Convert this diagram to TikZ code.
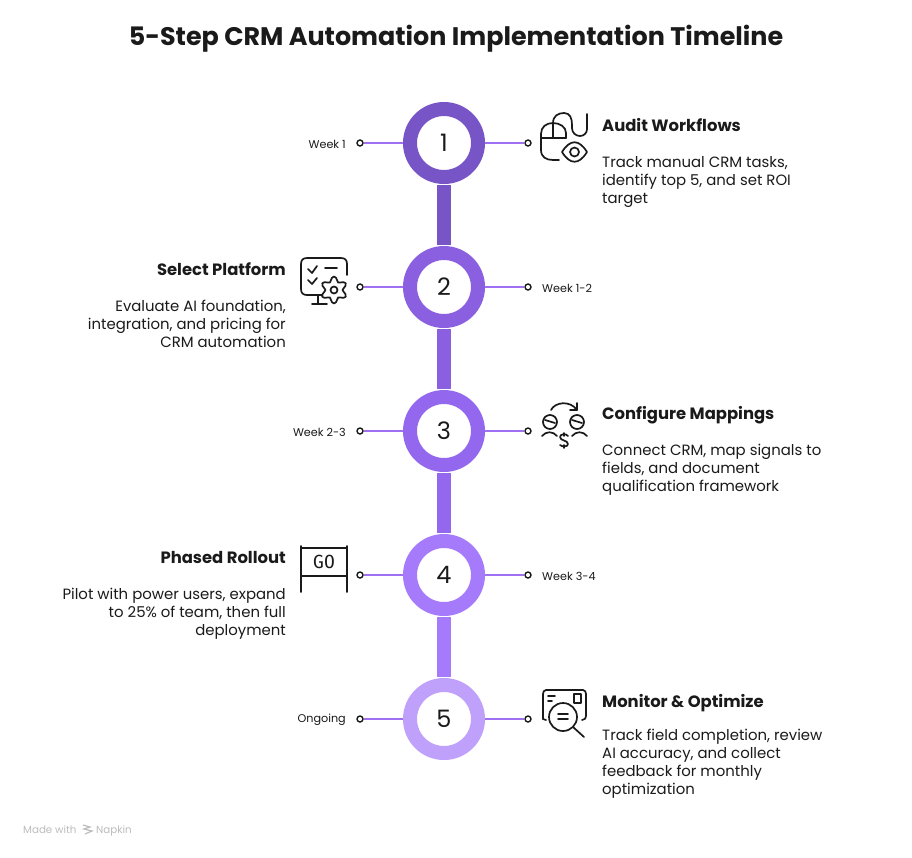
\documentclass[tikz,border=0pt]{standalone}
\usepackage{fontspec}
\setmainfont{Poppins}
\newfontfamily\gofont{DejaVu Sans Mono}
\definecolor{inka}{HTML}{1A1A1A}
\definecolor{stepa}{HTML}{7855C6}
\definecolor{stepb}{HTML}{8A60E0}
\definecolor{stepc}{HTML}{9468EE}
\definecolor{stepd}{HTML}{A67BFB}
\definecolor{stepe}{HTML}{BFA0FB}
\definecolor{tickc}{HTML}{A070F4}
\definecolor{markc}{HTML}{BDBDBD}
\tikzset{
  stage/.style={circle,draw=#1,line width=14pt,fill=white,minimum size=68pt,inner sep=0pt,text=inka,font=\fontsize{24}{24}\selectfont},
  rail/.style={line width=14pt,draw=#1,shorten >=1pt,shorten <=1pt},
  dot/.style={circle,draw=inka,line width=1.4pt,fill=white,minimum size=6pt,inner sep=0pt},
  tick/.style={draw=tickc,line width=1.6pt},
  weeklabel/.style={text=inka,font=\fontsize{11.2}{12}\selectfont,inner sep=0pt},
  headl/.style={text=inka,font=\fontsize{16.4}{18}\selectfont\bfseries,inner sep=0pt},
  bodyl/.style={text=inka,font=\fontsize{14.9}{18}\selectfont,inner sep=0pt},
  icon/.style={draw=inka,line width=1.7pt,line cap=round,line join=round},
}
\begin{document}
\begin{tikzpicture}[x=1pt,y=-1pt]
  \path[fill=white,use as bounding box] (0,0) rectangle (912,857);
  \node[text=inka,font=\fontsize{25.4}{28}\selectfont\bfseries,inner sep=0pt] (title) at (456,38.5) {5-Step CRM Automation Implementation Timeline};
  % stages with their dots and week labels
  \foreach \n/\y/\col in {1/143/stepa,2/287/stepb,3/431/stepc,4/575/stepd,5/719/stepe}
    \node[stage=\col] (s\n) at (444,\y) {\raisebox{-2pt}{\n}};
  \foreach \a/\b/\col in {s1/s2/stepa,s2/s3/stepb,s3/s4/stepc,s4/s5/stepd}
    \draw[rail=\col] (\a.south) -- (\b.north);
  \foreach \n/\y in {1/143,2/287,3/431,4/575,5/719} {
    \node[dot] (dl\n) at (360,\y) {};
    \node[dot] (dr\n) at (528,\y) {};
    \draw[tick] (s\n) -- (dl\n);
    \draw[tick] (s\n) -- (dr\n);
  }
  \foreach \n/\w in {1/Week 1,3/Week 2-3,5/Ongoing}
    \node[weeklabel,anchor=east] (w\n) at ([xshift=-14pt,yshift=-1pt]dl\n.center) {\w};
  \foreach \n/\w in {2/Week 1-2,4/Week 3-4}
    \node[weeklabel,anchor=west] (w\n) at ([xshift=14pt,yshift=-1pt]dr\n.center) {\w};
  % headings and texts
  \node[headl,anchor=base west] (h1) at (602,131) {Audit Workflows};
  \node[bodyl,anchor=north west,align=left] (b1) at (602,156) {Track manual CRM tasks,\\identify top 5, and set ROI\\target};
  \node[headl,anchor=base east] (h2) at (286,275) {Select Platform};
  \node[bodyl,anchor=north east,align=right] (b2) at (286,300) {Evaluate AI foundation,\\integration, and pricing for\\CRM automation};
  \node[headl,anchor=base west] (h3) at (602,419) {Configure Mappings};
  \node[bodyl,anchor=north west,align=left] (b3) at (602,444) {Connect CRM, map signals to\\fields, and document\\qualification framework};
  \node[headl,anchor=base east] (h4) at (286,563) {Phased Rollout};
  \node[bodyl,anchor=north east,align=right] (b4) at (286,588) {Pilot with power users, expand\\to 25\% of team, then full\\deployment};
  \node[headl,anchor=base west] (h5) at (602,707) {Monitor \& Optimize};
  \node[bodyl,anchor=north west,align=left] (b5) at (602,729) {Track field completion, review\\AI accuracy, and collect\\feedback for monthly\\optimization};
  % mouse and eye
  \draw[icon] (566,138) -- (566,133) .. controls (566,127) and (560,123) .. (553,123) .. controls (546,123) and (541,127) .. (541,134) -- (541,150) .. controls (541,157) and (546,160) .. (553,160) -- (559,160);
  \draw[icon] (541,138) -- (566,138) (553,138) -- (553,123);
  \draw[icon] (553,123) .. controls (553,116) and (558,113) .. (564,113) .. controls (570,113) and (572,118) .. (572,125) -- (572,128) .. controls (572,133) and (576,136) .. (580,136) .. controls (584,136) and (587,133) .. (587,129) -- (587,114);
  \draw[icon] (562,152) .. controls (570,139) and (579,139) .. (587,152) .. controls (579,165) and (570,165) .. (562,152);
  \draw[icon] (574.5,152) circle (4.5);
  % monitor, checks and gear
  \draw[icon] (322,295) -- (307,295) .. controls (303,295) and (301,293) .. (301,289) -- (301,264) .. controls (301,260) and (303,258) .. (307,258) -- (341,258) .. controls (345,258) and (347,260) .. (347,264) -- (347,275);
  \draw[icon] (318,295) -- (318,303) (312,304) -- (327,304);
  \draw[icon] (308,269) -- (312,273) -- (317,266) (308,280) -- (312,284) -- (317,278) (325,268) -- (337,268);
  \draw[icon] plot[smooth cycle,tension=.6,samples=36,domain=0:350] ({334+(11-2.5*cos(6*\x))*cos(\x)},{290+(11-2.5*cos(6*\x))*sin(\x)});
  \draw[icon] (334,290) circle (3.5);
  % two heads, swap arrow and dollar
  \draw[icon] (550,422) circle (7) (577,422) circle (7);
  \draw[icon] (545,420) -- (555,423) (572,420) -- (582,423);
  \draw[icon] (551,410) .. controls (555,402) and (570,400) .. (577,410);
  \draw[icon] (577,403) -- (577,410) -- (570,410);
  \draw[icon] (542,436) .. controls (546,431) and (553,431) .. (557,436) (572,436) .. controls (576,431) and (583,431) .. (587,436);
  \draw[icon] (568,436) .. controls (566,433) and (560,434) .. (560,437) .. controls (560,441) and (568,440) .. (568,444) .. controls (568,447) and (562,447) .. (560,445);
  \draw[icon] (564,433) -- (564,436) (564,445) -- (564,448);
  % start banner
  \draw[icon,line width=1.9pt] (301,546) -- (301,592) (347,546) -- (347,592) (301,548) -- (347,548) (301,576) -- (347,576);
  \node[text=inka,font=\gofont\fontsize{18}{18}\selectfont,inner sep=0pt] (go) at (324,562) {GO};
  % screen and magnifier
  \draw[icon] (543,719) -- (543,694) .. controls (543,692) and (544,690) .. (546,690) -- (583,690) .. controls (585,690) and (586,692) .. (586,694) -- (586,716) .. controls (586,718) and (585,720) .. (582,720);
  \draw[icon] (543,719) -- (546,720);
  \draw[icon] (548,696) -- (555,696) (548,701) -- (552,701);
  \draw[icon] (574,694) rectangle (581,703);
  \draw[icon,fill=white] (563,717) circle (14);
  \draw[icon] (558,714) -- (568,714) (558,719) -- (568,719) (573,727) -- (584,737);
  % footer mark
  \node[text=markc,font=\fontsize{10.3}{12}\selectfont,inner sep=0pt,anchor=base west] (made) at (23,833) {Made with};
  \draw[markc,line width=1.2pt] (83,825) -- (90,827) -- (84,829) -- (92,831) -- (85,834);
  \node[text=markc,font=\fontsize{10.3}{12}\selectfont,inner sep=0pt,anchor=base west] (napkin) at (96,833) {Napkin};
\end{tikzpicture}
\end{document}
